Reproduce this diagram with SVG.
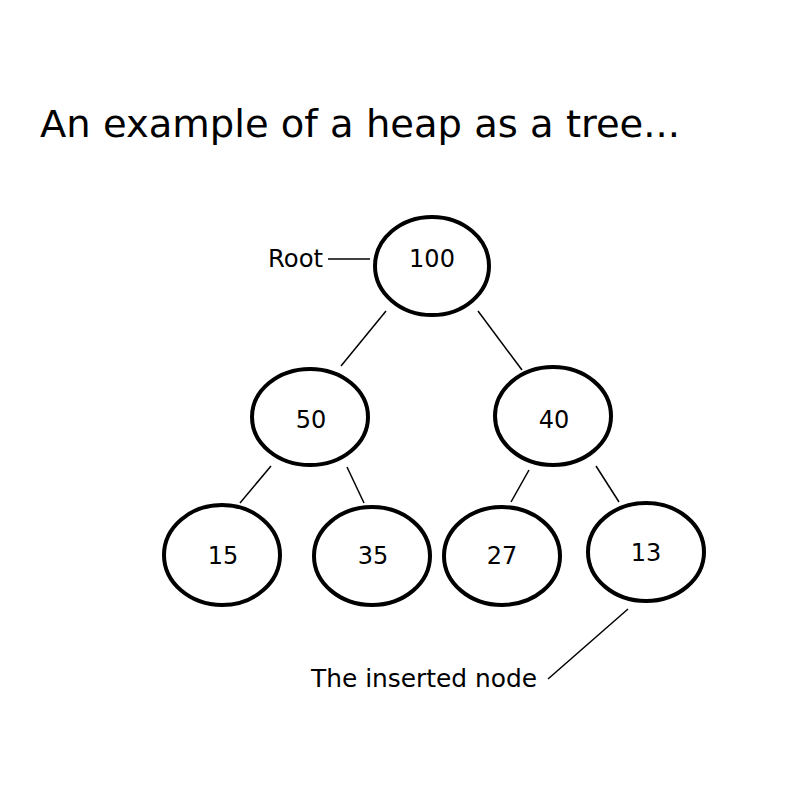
<svg xmlns="http://www.w3.org/2000/svg" width="800" height="800" viewBox="0 0 800 800">
  <style>
    .node ellipse { fill: #fff; stroke: #000; stroke-width: 4; }
    .node text, .label { font-family: "DejaVu Sans", Verdana, sans-serif; font-size: 24px; fill: #000; }
    .node text { text-anchor: middle; }
    .edge line { stroke: #000; stroke-width: 1.5; }
    .title { font-family: "DejaVu Sans", Verdana, sans-serif; font-size: 37px; fill: #000; }
  </style>
  <rect width="800" height="800" fill="#fff"/>
  <text class="title" x="40" y="137" textLength="640" lengthAdjust="spacingAndGlyphs">An example of a heap as a tree...</text>

  <g id="connectors" class="edge">
    <line x1="386" y1="311" x2="341" y2="366"/>
    <line x1="478" y1="311" x2="522" y2="370"/>
    <line x1="271" y1="466" x2="240" y2="503"/>
    <line x1="347" y1="467" x2="364" y2="503"/>
    <line x1="529" y1="470" x2="511" y2="502"/>
    <line x1="596" y1="466" x2="619" y2="502"/>
    <line x1="328" y1="259" x2="370" y2="259"/>
    <line x1="628" y1="609" x2="548" y2="679"/>
  </g>

  <g id="node-100" class="node"><ellipse cx="432" cy="266" rx="57" ry="49"/><text x="432" y="267">100</text></g>
  <g id="node-50" class="node"><ellipse cx="310" cy="417" rx="58" ry="48"/><text x="311" y="428">50</text></g>
  <g id="node-40" class="node"><ellipse cx="553" cy="416" rx="58" ry="49"/><text x="554" y="428">40</text></g>
  <g id="node-15" class="node"><ellipse cx="222" cy="555" rx="58" ry="50"/><text x="223" y="564">15</text></g>
  <g id="node-35" class="node"><ellipse cx="372" cy="556" rx="58" ry="49"/><text x="373" y="564">35</text></g>
  <g id="node-27" class="node"><ellipse cx="502" cy="556" rx="58" ry="49"/><text x="502" y="564">27</text></g>
  <g id="node-13" class="node"><ellipse cx="646" cy="552" rx="58" ry="49"/><text x="646" y="561">13</text></g>

  <text class="label" x="268" y="267" textLength="55" lengthAdjust="spacingAndGlyphs">Root</text>
  <text class="label" x="311" y="687" textLength="226" lengthAdjust="spacingAndGlyphs">The inserted node</text>
</svg>
